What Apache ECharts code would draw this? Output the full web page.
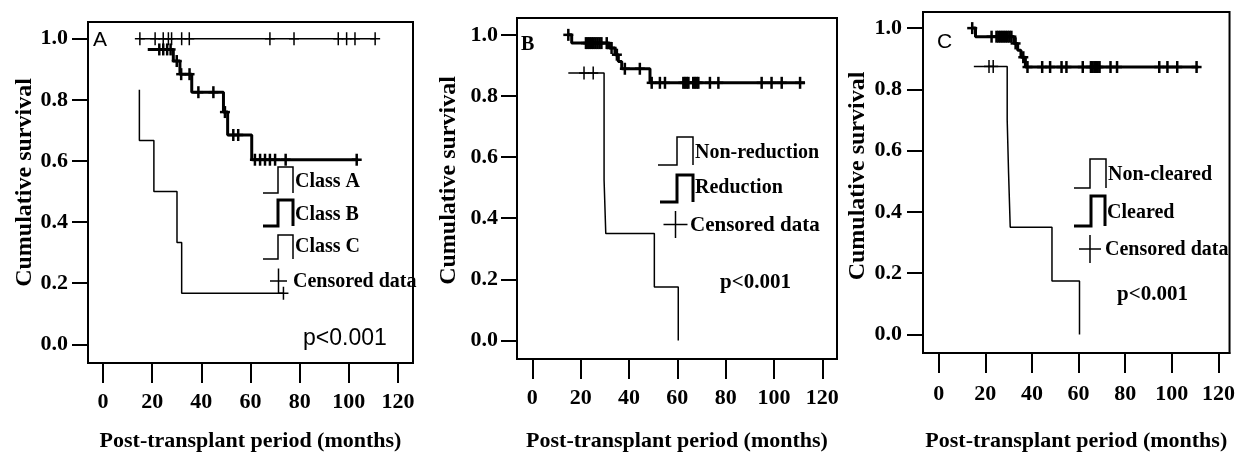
<!DOCTYPE html>
<html><head><meta charset="utf-8">
<script src="https://cdn.jsdelivr.net/npm/echarts@6/dist/echarts.min.js"></script>
<style>html,body{margin:0;padding:0;background:#fff}#c{width:1238px;height:457px}</style>
</head><body><div id="c"></div>
<script>
// ---- tick labels / titles ----
const xTicks = [0, 20, 40, 60, 80, 100, 120];
const yTicks = [0.0, 0.2, 0.4, 0.6, 0.8, 1.0];
const xTitle = 'Post-transplant period (months)';
const yTitle = 'Cumulative survival';

// ---- Panel A : [months, cumulative survival] ----
const aClassA = [[15.0,1.0],[110.7,1.0]];
const aClassACensored = [[15.0,1.0],[21.2,1.0],[24.5,1.0],[26.6,1.0],[27.9,1.0],[32.0,1.0],[35.1,1.0],[67.9,1.0],[77.7,1.0],[95.7,1.0],[99.1,1.0],[102.5,1.0],[110.7,1.0]];
const aClassB = [[18.2,0.965],[28.6,0.927],[31.3,0.884],[36.1,0.825],[49.0,0.760],[50.7,0.685],[60.5,0.604],[103.8,0.604]];
const aClassBCensored = [[22.9,0.965],[24.5,0.965],[26.1,0.965],[27.5,0.965],[30.0,0.927],[31.8,0.884],[35.2,0.884],[38.8,0.825],[44.9,0.825],[49.6,0.760],[53.0,0.685],[55.0,0.685],[61.8,0.604],[63.9,0.604],[65.9,0.604],[67.9,0.604],[70.0,0.604],[74.3,0.604],[103.2,0.604]];
const aClassC = [[14.8,0.833],[14.8,0.667],[20.7,0.5],[30.1,0.333],[32.0,0.167],[73.4,0.167]];
const aClassCCensored = [[73.4,0.167]];

// ---- Panel B ----
const bNonReduction = [[14.9,0.875],[29.7,0.525],[30.4,0.35],[50.5,0.175],[60.4,0.0]];
const bNonReductionCensored = [[21.4,0.875],[25.2,0.875]];
const bReduction = [[14.9,1.0],[16.3,0.973],[31.9,0.957],[34.2,0.935],[35.6,0.913],[37.0,0.889],[48.7,0.843],[112.8,0.843]];
const bReductionCensored = [[14.9,1.0],[22.2,0.973],[23.0,0.973],[23.8,0.973],[24.6,0.973],[25.4,0.973],[26.2,0.973],[27.0,0.973],[27.8,0.973],[28.6,0.973],[30.8,0.973],[32.8,0.957],[35.0,0.935],[38.3,0.889],[44.5,0.889],[49.4,0.843],[52.8,0.843],[54.9,0.843],[62.5,0.843],[63.2,0.843],[63.9,0.843],[64.6,0.843],[66.6,0.843],[67.3,0.843],[68.0,0.843],[68.7,0.843],[73.5,0.843],[77.0,0.843],[94.9,0.843],[99.0,0.843],[103.2,0.843],[110.8,0.843]];

// ---- Panel C ----
const cNonCleared = [[15.1,0.875],[29.4,0.7],[30.0,0.525],[30.7,0.35],[48.6,0.175],[60.4,0.0]];
const cNonClearedCensored = [[21.6,0.875],[23.4,0.875]];
const cCleared = [[14.4,1.0],[15.8,0.972],[32.3,0.950],[33.9,0.928],[35.3,0.905],[37.2,0.873],[111.3,0.873]];
const cClearedCensored = [[14.4,1.0],[22.7,0.972],[24.8,0.972],[25.6,0.972],[26.4,0.972],[27.2,0.972],[28.0,0.972],[28.8,0.972],[29.6,0.972],[30.4,0.972],[31.2,0.972],[33.0,0.950],[36.3,0.905],[38.1,0.873],[44.4,0.873],[47.8,0.873],[52.7,0.873],[54.8,0.873],[61.8,0.873],[65.3,0.873],[66.0,0.873],[66.8,0.873],[67.5,0.873],[68.2,0.873],[69.0,0.873],[73.7,0.873],[76.5,0.873],[94.6,0.873],[98.1,0.873],[102.3,0.873],[110.6,0.873]];

// ---- legend / annotation texts ----
const legendA = ['Class A','Class B','Class C','Censored data'];
const legendB = ['Non-reduction','Reduction','Censored data'];
const legendC = ['Non-cleared','Cleared','Censored data'];
const pText = 'p<0.001';

// ---- layout ----
const SERIF = '"Liberation Serif","Times New Roman",serif';
const SANS = '"Liberation Sans",Arial,sans-serif';
const panels = [
  {left:88, top:22, w:325, h:346, xmin:-6.10, xmax:126.10, ymin:-0.0613, ymax:1.0548, lblMargin:28, nameGap:67, yGap:51, yPad:20, ylMargin:20},
  {left:517, top:18, w:320, h:344, xmin:-6.33, xmax:126.08, ymin:-0.0607, ymax:1.0551, lblMargin:28, nameGap:71, yGap:56, yPad:16, ylMargin:19},
  {left:923, top:12, w:314, h:345, xmin:-6.70, xmax:124.73, ymin:-0.0603, ymax:1.0526, lblMargin:30, nameGap:77, yGap:53, yPad:13, ylMargin:21}
];

const grids = [], xAxes = [], yAxes = [];
panels.forEach((p, i) => {
  grids.push({left:p.left, top:p.top, width:p.w, height:p.h, show:true, borderColor:'#000', borderWidth:2, backgroundColor:'transparent'});
  xAxes.push({gridIndex:i, type:'value', min:p.xmin, max:p.xmax, splitLine:{show:false},
    axisLine:{show:true, onZero:false, lineStyle:{color:'#000', width:2}},
    axisTick:{show:true, length:20, customValues:xTicks, lineStyle:{color:'#000', width:2}},
    axisLabel:{customValues:xTicks, margin:p.lblMargin, color:'#000', fontFamily:SERIF, fontWeight:'bold', fontSize:22},
    name:xTitle, nameLocation:'middle', nameGap:p.nameGap,
    nameTextStyle:{color:'#000', fontFamily:SERIF, fontWeight:'bold', fontSize:22}});
  yAxes.push({gridIndex:i, type:'value', min:p.ymin, max:p.ymax, splitLine:{show:false},
    axisLine:{show:true, onZero:false, lineStyle:{color:'#000', width:2}},
    axisTick:{show:true, length:16, customValues:yTicks, lineStyle:{color:'#000', width:2}},
    axisLabel:{customValues:yTicks, formatter:v => v.toFixed(1), margin:p.ylMargin, color:'#000', fontFamily:SERIF, fontWeight:'bold', fontSize:22},
    name:yTitle, nameLocation:'middle', nameGap:p.yGap, nameRotate:90,
    nameTextStyle:{color:'#000', fontFamily:SERIF, fontWeight:'bold', fontSize:24, padding:[0,0,0,p.yPad]}});
});

function stepLine(data, idx, width){
  return {type:'line', step:'end', data:data, xAxisIndex:idx, yAxisIndex:idx, symbol:'none', showSymbol:false,
    lineStyle:{color:'#000', width:width}, silent:true, animation:false};
}
function censor(data, idx, lw, h, w){
  return {type:'custom', data:data, xAxisIndex:idx, yAxisIndex:idx, encode:{x:0, y:1}, silent:true, animation:false,
    renderItem:(params, api) => {
      const c = api.coord([api.value(0), api.value(1)]);
      return {type:'group', children:[
        {type:'line', shape:{x1:c[0], y1:c[1]-h/2, x2:c[0], y2:c[1]+h/2}, style:{stroke:'#000', lineWidth:lw}},
        {type:'line', shape:{x1:c[0]-w/2, y1:c[1], x2:c[0]+w/2, y2:c[1]}, style:{stroke:'#000', lineWidth:lw}}
      ]};
    }};
}

const series = [
  stepLine(aClassA, 0, 1.5), censor(aClassACensored, 0, 1.5, 13, 10),
  stepLine(aClassB, 0, 3), censor(aClassBCensored, 0, 2.5, 12, 10),
  stepLine(aClassC, 0, 1.5), censor(aClassCCensored, 0, 1.5, 13, 10),
  stepLine(bNonReduction, 1, 1.5), censor(bNonReductionCensored, 1, 1.5, 13, 10),
  stepLine(bReduction, 1, 3), censor(bReductionCensored, 1, 2.5, 12, 10),
  stepLine(cNonCleared, 2, 1.5), censor(cNonClearedCensored, 2, 1.5, 13, 10),
  stepLine(cCleared, 2, 3), censor(cClearedCensored, 2, 2.5, 12, 10)
];

// ---- graphics: legends, labels ----
function stepIcon(x0, x1, x2, yb, yt, lw){
  return {type:'polyline', shape:{points:[[x0,yb],[x1,yb],[x1,yt],[x2,yt],[x2,yb]]}, style:{stroke:'#000', lineWidth:lw, fill:'none'}, silent:true};
}
function plus(cx, cy, hw, hh, lw){
  return [
    {type:'line', shape:{x1:cx-hw, y1:cy, x2:cx+hw, y2:cy}, style:{stroke:'#000', lineWidth:lw}, silent:true},
    {type:'line', shape:{x1:cx, y1:cy-hh, x2:cx, y2:cy+hh}, style:{stroke:'#000', lineWidth:lw}, silent:true}
  ];
}
function txt(s, x, y, font){
  return {type:'text', x:x, y:y, silent:true, style:{text:s, font:font, fill:'#000', align:'left', verticalAlign:'middle', textAlign:'left', textVerticalAlign:'middle'}};
}
const LEG = 'bold 20px ' + SERIF;
const graphics = [
  // Panel A
  txt('A', 93, 40, '21px ' + SANS),
  stepIcon(263, 278, 293, 193, 167, 1.5), txt(legendA[0], 295, 182, LEG),
  stepIcon(263, 278, 293, 226, 200, 3), txt(legendA[1], 295, 215, LEG),
  stepIcon(263, 278, 293, 259, 235, 1.5), txt(legendA[2], 295, 247, LEG),
  ...plus(278.5, 281, 8.5, 12.5, 1.5), txt(legendA[3], 293, 282, LEG),
  txt(pText, 303, 339, '23px ' + SANS),
  // Panel B
  txt('B', 521, 45, 'bold 20px ' + SERIF),
  stepIcon(658, 677, 693, 165, 137, 1.5), txt(legendB[0], 695, 153, LEG),
  stepIcon(660, 677, 693, 202, 175, 3), txt(legendB[1], 695, 188, LEG),
  ...plus(675.5, 224.5, 12, 13.5, 1.5), txt(legendB[2], 690, 226, 'bold 21px ' + SERIF),
  txt(pText, 720, 283, 'bold 21px ' + SERIF),
  // Panel C
  txt('C', 937, 42, '21px ' + SANS),
  stepIcon(1074, 1090, 1106, 188, 159, 1.5), txt(legendC[0], 1108, 175, LEG),
  stepIcon(1074, 1091, 1105, 226, 196, 3), txt(legendC[1], 1107, 213, LEG),
  ...plus(1090, 249, 11, 14, 1.5), txt(legendC[2], 1105, 250, LEG),
  txt(pText, 1117, 295, 'bold 21px ' + SERIF)
];

const chart = echarts.init(document.getElementById('c'), null, {renderer:'canvas'});
chart.setOption({
  animation:false,
  backgroundColor:'#fff',
  grid:grids, xAxis:xAxes, yAxis:yAxes, series:series,
  graphic:{elements:graphics}
});
</script></body></html>
